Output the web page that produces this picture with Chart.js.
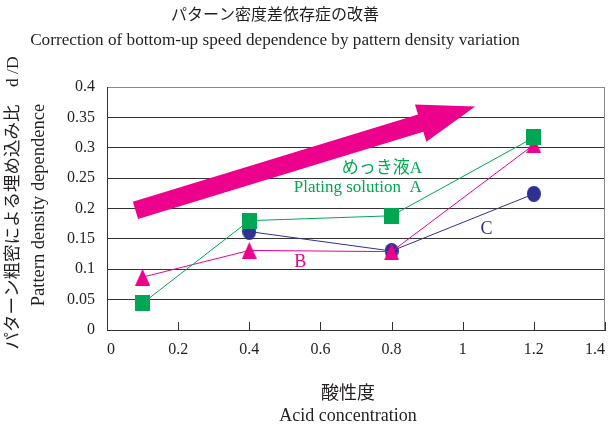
<!DOCTYPE html>
<html>
<head>
<meta charset="utf-8">
<script src="https://cdn.jsdelivr.net/npm/chart.js@4/dist/chart.umd.min.js"></script>
<style>
  html, body { margin: 0; padding: 0; background: #ffffff; }
  #c { display: block; }
</style>
</head>
<body>
<canvas id="c" width="610" height="425"></canvas>
<script>
// Acid concentration (x) and pattern density dependence d/D (y)
const acidX = [0.1, 0.4, 0.8, 1.2];
const solutionA = [0.044, 0.180, 0.188, 0.317];
const solutionB = [0.087, 0.131, 0.129, 0.305];
const acidXC = [0.4, 0.8, 1.2];
const solutionC = [0.162, 0.130, 0.224];

const xTicks = [0, 0.2, 0.4, 0.6, 0.8, 1, 1.2, 1.4];
const yTicks = [0, 0.05, 0.1, 0.15, 0.2, 0.25, 0.3, 0.35, 0.4];

// Trend arrow, tail and tip in data units
const trendArrow = [[0.08, 0.197], [1.035, 0.368]];

const GREEN = '#00a651';
const MAGENTA = '#ec008c';
const NAVY = '#2e3192';
const INK = '#231f20';
const SERIF = "'Liberation Serif', 'DejaVu Serif', 'Noto Sans CJK JP', serif";

function pts(xs, ys) { return xs.map((x, i) => ({ x: x, y: ys[i] })); }

// Marker sprites
function sprite(w, h, color, shape) {
  const cv = document.createElement('canvas');
  cv.width = w; cv.height = h;
  const g = cv.getContext('2d');
  g.fillStyle = color;
  g.beginPath();
  if (shape === 'square') g.rect(0, 0, w, h);
  else if (shape === 'circle') g.ellipse(w / 2, h / 2, w / 2, h / 2, 0, 0, Math.PI * 2);
  else { g.moveTo(w / 2, 0); g.lineTo(w, h); g.lineTo(0, h); g.closePath(); }
  g.fill();
  return cv;
}
const squareMark = sprite(15, 16, GREEN, 'square');
const triMark = sprite(15, 17, MAGENTA, 'triangle');
const dotMark = sprite(14, 16, NAVY, 'circle');

const decorations = {
  id: 'decorations',
  beforeDatasetsDraw(chart) {
    const { ctx, chartArea: a, scales: { x, y } } = chart;
    ctx.save();
    // right frame line
    ctx.strokeStyle = '#8a8a8a';
    ctx.lineWidth = 1;
    ctx.beginPath();
    ctx.moveTo(a.right - 0.5, a.top);
    ctx.lineTo(a.right - 0.5, a.bottom);
    ctx.stroke();
    // inward tick marks on the x axis
    ctx.strokeStyle = '#333333';
    xTicks.forEach(v => {
      const px = Math.round(x.getPixelForValue(v)) + 0.5;
      ctx.beginPath();
      ctx.moveTo(px, a.bottom);
      ctx.lineTo(px, a.bottom - 8);
      ctx.stroke();
    });
    // trend arrow
    const x0 = x.getPixelForValue(trendArrow[0][0]), y0 = y.getPixelForValue(trendArrow[0][1]);
    const x1 = x.getPixelForValue(trendArrow[1][0]), y1 = y.getPixelForValue(trendArrow[1][1]);
    const len = Math.hypot(x1 - x0, y1 - y0);
    const ang = Math.atan2(y1 - y0, x1 - x0);
    const shaft = 9, head = 19.5, headLen = 57;
    ctx.translate(x0, y0);
    ctx.rotate(ang);
    ctx.fillStyle = MAGENTA;
    ctx.beginPath();
    ctx.moveTo(0, -shaft);
    ctx.lineTo(len - headLen, -shaft);
    ctx.lineTo(len - headLen, -head);
    ctx.lineTo(len, 0);
    ctx.lineTo(len - headLen, head);
    ctx.lineTo(len - headLen, shaft);
    ctx.lineTo(0, shaft);
    ctx.closePath();
    ctx.fill();
    ctx.restore();
  },
  afterDatasetsDraw(chart) {
    const { ctx, scales: { x, y } } = chart;
    ctx.save();
    ctx.textAlign = 'center';
    ctx.textBaseline = 'middle';
    const label = (t, vx, vy, color, size) => {
      ctx.fillStyle = color;
      ctx.font = size + 'px ' + SERIF;
      ctx.fillText(t, x.getPixelForValue(vx), y.getPixelForValue(vy));
    };
    label('めっき液A', 0.773, 0.265, GREEN, 17);
    label('Plating solution  A', 0.705, 0.234, GREEN, 17);
    label('B', 0.543, 0.112, MAGENTA, 18);
    label('C', 1.067, 0.166, NAVY, 18);
    ctx.restore();
  },
  afterDraw(chart) {
    const { ctx } = chart;
    ctx.save();
    ctx.fillStyle = INK;
    ctx.textAlign = 'center';
    ctx.textBaseline = 'middle';
    ctx.font = '16px ' + SERIF;
    ctx.fillText('パターン密度差依存症の改善', 275, 16);
    ctx.font = '17.2px ' + SERIF;
    ctx.fillText('Correction of bottom-up speed dependence by pattern density variation', 275, 40);
    ctx.font = '18px ' + SERIF;
    ctx.fillText('酸性度', 348, 394);
    ctx.fillText('Acid concentration', 348, 416);
    // y axis titles
    ctx.translate(13, 203);
    ctx.rotate(-Math.PI / 2);
    ctx.font = '17.5px ' + SERIF;
    ctx.fillText('パターン粗密による埋め込み比　d /D', 0, 0);
    ctx.restore();
    ctx.save();
    ctx.fillStyle = INK;
    ctx.textAlign = 'center';
    ctx.textBaseline = 'middle';
    ctx.translate(39, 205);
    ctx.rotate(-Math.PI / 2);
    ctx.font = '18.5px ' + SERIF;
    ctx.fillText('Pattern density dependence', 0, 0);
    ctx.restore();
  }
};

new Chart(document.getElementById('c'), {
  type: 'scatter',
  data: {
    datasets: [
      { label: 'A', data: pts(acidX, solutionA), showLine: true, borderColor: GREEN, borderWidth: 1,
        pointStyle: squareMark, order: 1 },
      { label: 'B', data: pts(acidX, solutionB), showLine: true, borderColor: MAGENTA, borderWidth: 1,
        pointStyle: triMark, order: 2 },
      { label: 'C', data: pts(acidXC, solutionC), showLine: true, borderColor: NAVY, borderWidth: 1,
        pointStyle: dotMark, order: 3 }
    ]
  },
  options: {
    responsive: false,
    devicePixelRatio: 1,
    animation: false,
    layout: { padding: { top: 87, right: 1, left: 0, bottom: 0 } },
    plugins: { legend: { display: false }, tooltip: { enabled: false }, title: { display: false } },
    scales: {
      x: {
        type: 'linear', min: 0, max: 1.4,
        afterBuildTicks: s => { s.ticks = xTicks.map(v => ({ value: v })); },
        afterFit: s => { s.height = 95; s.paddingLeft = 0; s.paddingRight = 0; },
        grid: { display: false, drawTicks: false },
        border: { display: true, color: '#333333', width: 1 },
        ticks: {
          align: 'inner', padding: 10, color: INK, maxRotation: 0,
          font: { family: SERIF, size: 16 },
          callback: v => String(+v.toFixed(2))
        }
      },
      y: {
        type: 'linear', min: 0, max: 0.4,
        afterBuildTicks: s => { s.ticks = yTicks.map(v => ({ value: v })); },
        afterFit: s => { s.width = 107; },
        grid: {
          drawTicks: false, lineWidth: 1,
          color: c => (c.tick && c.tick.value >= 0.4 ? '#8a8a8a' : '#333333')
        },
        border: { display: true, color: '#333333', width: 1 },
        ticks: {
          padding: 12, color: INK,
          font: { family: SERIF, size: 16 },
          callback: v => String(+v.toFixed(2))
        }
      }
    }
  },
  plugins: [decorations]
});
</script>
</body>
</html>
